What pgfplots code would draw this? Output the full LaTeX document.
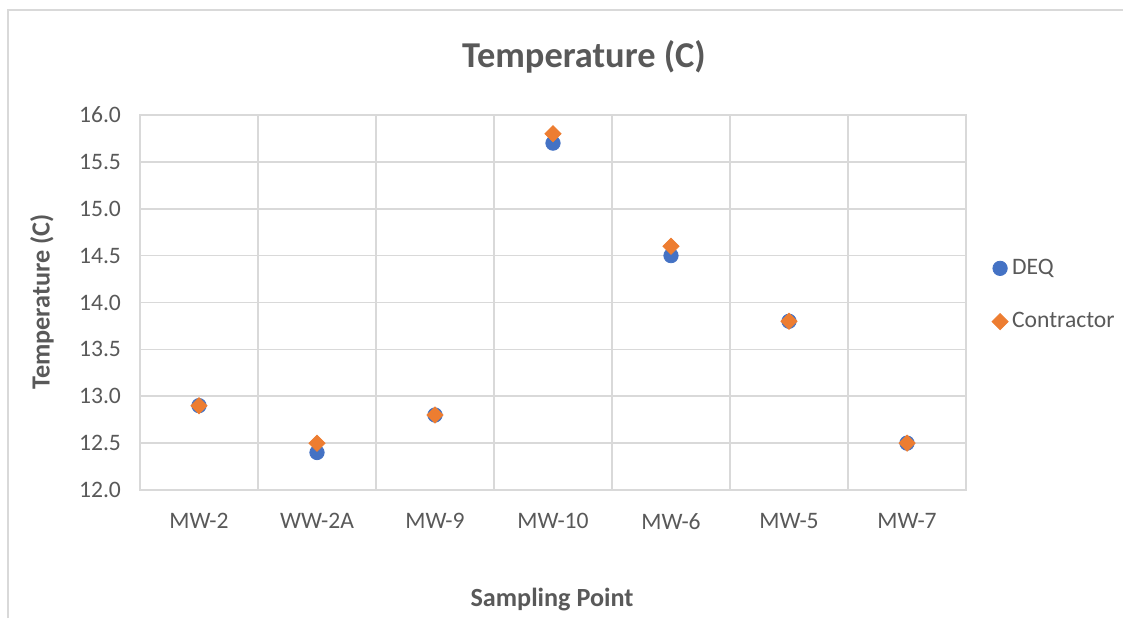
\documentclass[border=0pt]{standalone}
\usepackage{fontspec}
\setmainfont{Carlito}
\usepackage{pgfplots}
\pgfplotsset{compat=1.18}
\definecolor{deqblue}{HTML}{4472C4}
\definecolor{conorange}{HTML}{ED7D31}
\definecolor{txtgray}{HTML}{595959}
\definecolor{gridgray}{HTML}{D9D9D9}

\begin{document}
\begin{tikzpicture}[x=1pt,y=1pt]
% page frame (1px = 0.5pt)
\path[use as bounding box] (0,0) rectangle (561.5,309);
\draw[gridgray,line width=0.8pt] (4,0) -- (4,304) -- (561.5,304);

\begin{axis}[
    at={(70pt,64pt)}, anchor=south west,
    scale only axis,
    width=413pt, height=187.5pt,
    xmin=-0.5, xmax=6.5,
    ymin=12, ymax=16,
    xtick={0,...,6},
    xticklabels={MW-2,WW-2A,MW-9,MW-10,MW-6,MW-5,MW-7},
    minor xtick={-0.5,0.5,...,6.5},
    ytick={12,12.5,...,16},
    xminorgrids, ymajorgrids,
    grid style={gridgray,line width=0.8pt},
    minor grid style={gridgray,line width=0.8pt},
    axis line style={gridgray,line width=0.8pt},
    tick style={draw=none},
    /pgf/number format/assume math mode=true,
    yticklabel={\pgfmathprintnumber[fixed,fixed zerofill,precision=1]{\tick}},
    ticklabel style={font=\fontsize{11.8}{14}\selectfont, text=txtgray},
    xticklabel style={yshift=-8pt},
    yticklabel style={xshift=-6pt},
    legend style={at={(1.031,0.52)}, anchor=west, draw=none, fill=none,
        font=\fontsize{11.8}{14}\selectfont, text=txtgray,
        row sep=13.5pt, inner sep=0pt},
    legend cell align=left,
]
\addplot[only marks, mark=*, mark size=3.6pt,
    mark options={draw=deqblue, fill=deqblue}]
coordinates {(0,12.9) (1,12.4) (2,12.8) (3,15.7) (4,14.5) (5,13.8) (6,12.5)};
\addlegendentry{DEQ}
\addplot[only marks, mark=square*, mark size=2.85pt,
    mark options={draw=conorange, fill=conorange, rotate=45}]
coordinates {(0,12.9) (1,12.5) (2,12.8) (3,15.8) (4,14.6) (5,13.8) (6,12.5)};
\addlegendentry{Contractor}
\end{axis}

\node[font=\bfseries\fontsize{18.2}{22}\selectfont, text=txtgray] at (292,280.5) {Temperature (C)};
\node[font=\bfseries\fontsize{13.1}{16}\selectfont, text=txtgray, rotate=90] at (21,158) {Temperature (C)};
\node[font=\bfseries\fontsize{13.1}{16}\selectfont, text=txtgray] at (276,9) {Sampling Point};
\end{tikzpicture}
\end{document}
